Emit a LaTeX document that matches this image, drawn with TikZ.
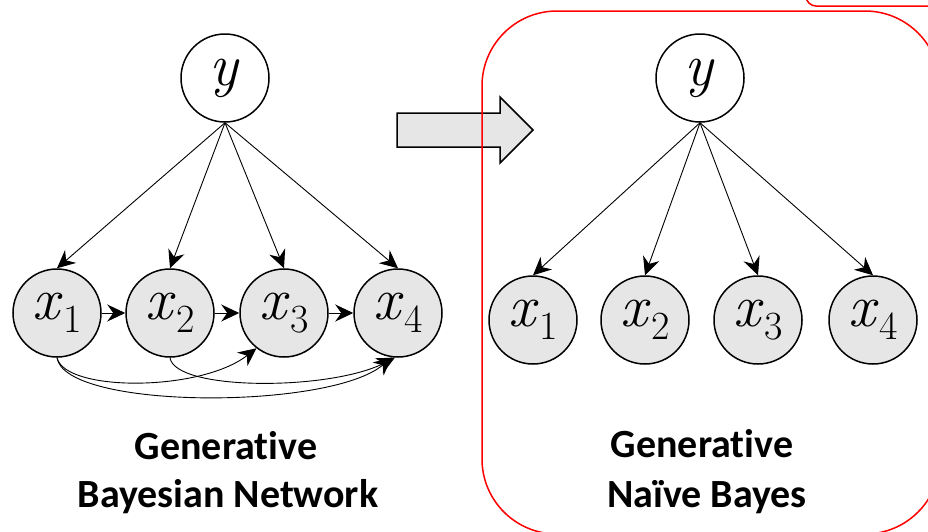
\documentclass[tikz,border=0pt]{standalone}
\usepackage{fontspec}
\setsansfont{Carlito}[Ligatures={NoCommon}]
\usetikzlibrary{arrows.meta}
\definecolor{nodegray}{HTML}{E6E6E6}
\newcommand{\myvar}[2]{\textit{#1}\kern1pt\raisebox{-0.22em}{\fontsize{40}{42}\selectfont #2}}
\begin{document}
\begin{tikzpicture}[x=1pt,y=-1pt,
  var/.style={circle,draw=black,line width=1.5pt,minimum size=88pt,inner sep=0pt,fill=#1,
     font=\fontsize{60}{62}\selectfont},
  var/.default=nodegray,
  edge/.style={line width=0.9pt,-{Stealth[length=18pt,width=17pt,inset=6pt]}},
  lab/.style={anchor=base,font=\sffamily\bfseries\fontsize{40}{47}\selectfont,inner sep=0pt}]
\useasboundingbox (0,0) rectangle (928,531);
\clip (0,0) rectangle (928,531);
% left network
\node[var=white] (yL) at (225,78) {\textit{y}};
\node[var] (a1) at (57,313) {\myvar{x}{1}};
\node[var] (a2) at (170,313) {\myvar{x}{2}};
\node[var] (a3) at (284,313) {\myvar{x}{3}};
\node[var] (a4) at (398,313) {\myvar{x}{4}};
\foreach \n in {a1,a2,a3,a4} \draw[edge] (yL.south) -- (\n.north);
\draw[edge] (a1) -- (a2);
\draw[edge] (a2) -- (a3);
\draw[edge] (a3) -- (a4);
\draw[edge] (a1.south) .. controls (65,392) and (200,392) .. (a3.232);
\draw[edge] (a1.south) .. controls (65,410) and (330,410) .. (a4.262);
\draw[edge] (a2.south) .. controls (175,391) and (330,391) .. (a4.266);
\node[lab] (t1) at (226,459) {Generative};
\node[lab] (t2) at (228,507) {Bayesian Network};
% block arrow
\draw[line width=1.5pt,fill=nodegray,line join=miter]
  (397,113) -- (500,113) -- (500,97) -- (533,130) -- (500,163) -- (500,147) -- (397,147) -- cycle;
% right network
\node[var=white] (yR) at (700,78) {\textit{y}};
\node[var] (b1) at (533,320) {\myvar{x}{1}};
\node[var] (b2) at (645,320) {\myvar{x}{2}};
\node[var] (b3) at (758,320) {\myvar{x}{3}};
\node[var] (b4) at (873,320) {\myvar{x}{4}};
\foreach \n in {b1,b2,b3,b4} \draw[edge] (yR.south) -- (\n.north);
\node[lab] (t3) at (702,457) {Generative};
\node[lab] (t4) at (707,507) {Naïve Bayes};
% red frames
\draw[red,line width=1.5pt,rounded corners=75pt] (482,11) rectangle (940,534);
\draw[red,line width=1.5pt,rounded corners=10pt] (806,-20) -- (806,6) -- (940,6);
\end{tikzpicture}
\end{document}
